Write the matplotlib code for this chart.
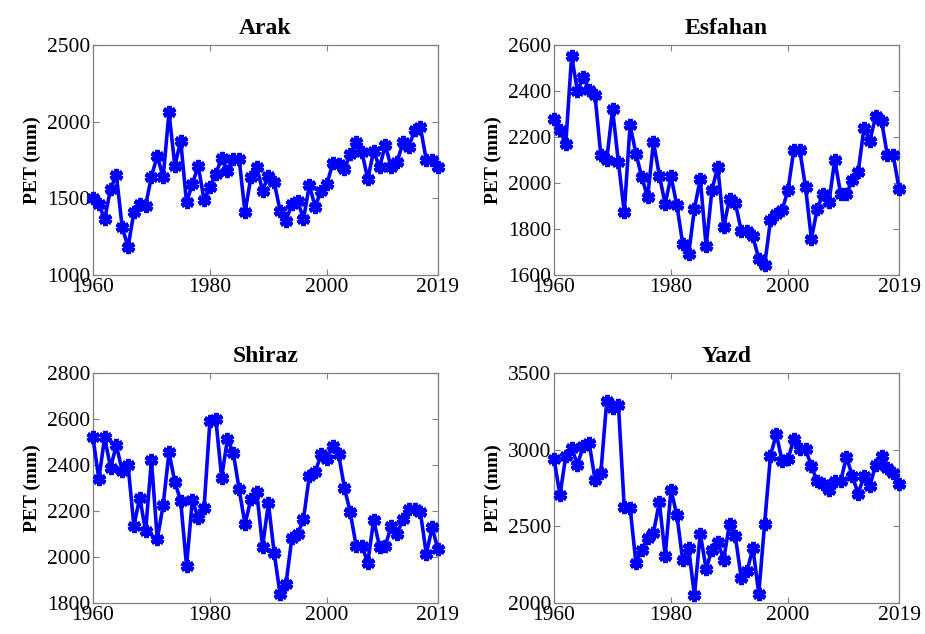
import matplotlib

matplotlib.use("Agg")

import matplotlib.pyplot as plt
import numpy as np

years = np.arange(1960, 2020)

arak = [1500, 1463, 1365, 1561, 1654, 1311, 1185, 1409, 1463, 1452,
        1643, 1778, 1637, 2061, 1713, 1876, 1474, 1593, 1713, 1489,
        1572, 1659, 1761, 1680, 1757, 1757, 1409, 1637, 1707, 1550,
        1648, 1604, 1420, 1354, 1463, 1485, 1365, 1587, 1446, 1550,
        1593, 1728, 1724, 1691, 1789, 1865, 1800, 1626, 1811, 1702,
        1848, 1702, 1735, 1865, 1833, 1946, 1963, 1750, 1750, 1702]

esfahan = [2280, 2229, 2171, 2551, 2400, 2461, 2403, 2381, 2120, 2101,
           2320, 2091, 1874, 2251, 2128, 2026, 1939, 2178, 2033, 1910,
           2029, 1903, 1736, 1690, 1888, 2019, 1725, 1971, 2070, 1809,
           1932, 1913, 1794, 1794, 1768, 1671, 1642, 1838, 1867, 1881,
           1971, 2145, 2145, 1983, 1758, 1888, 1954, 1917, 2101, 1954,
           1954, 2012, 2048, 2240, 2185, 2290, 2270, 2120, 2120, 1975]

shiraz = [2519, 2338, 2519, 2388, 2485, 2374, 2399, 2135, 2258, 2113,
          2420, 2077, 2225, 2454, 2326, 2243, 1961, 2248, 2167, 2214,
          2591, 2601, 2345, 2512, 2451, 2294, 2142, 2251, 2283, 2045,
          2233, 2015, 1838, 1881, 2080, 2099, 2164, 2352, 2367, 2446,
          2427, 2480, 2446, 2301, 2193, 2048, 2048, 1975, 2161, 2045,
          2048, 2135, 2099, 2164, 2207, 2207, 2193, 2012, 2128, 2033]

yazd = [2939, 2702, 2957, 3011, 2902, 3022, 3043, 2804, 2848, 3315,
        3272, 3293, 2624, 2620, 2261, 2348, 2424, 2457, 2657, 2309,
        2739, 2570, 2278, 2359, 2050, 2452, 2222, 2348, 2396, 2283,
        2515, 2435, 2163, 2207, 2359, 2061, 2515, 2957, 3102, 2924,
        2935, 3070, 3004, 3004, 2891, 2793, 2778, 2739, 2793, 2793,
        2952, 2826, 2713, 2826, 2761, 2902, 2957, 2880, 2848, 2772]

stations = ["Arak", "Esfahan", "Shiraz", "Yazd"]
series = [arak, esfahan, shiraz, yazd]
ylims = [(1000, 2500), (1600, 2600), (1800, 2800), (2000, 3500)]
ysteps = [500, 200, 200, 500]
xticks = [1960, 1980, 2000, 2019]

plt.rcParams["font.family"] = ["Liberation Serif", "DejaVu Serif"]

fig = plt.figure(figsize=(9.25, 6.34), dpi=100)
positions = [
    [0.1005, 0.566, 0.373, 0.363],
    [0.599, 0.566, 0.373, 0.363],
    [0.1005, 0.049, 0.373, 0.363],
    [0.599, 0.049, 0.373, 0.363],
]

for pos, name, vals, (lo, hi), step in zip(positions, stations, series, ylims, ysteps):
    ax = fig.add_axes(pos)
    ax.plot(years, vals, color="#0000ff", linewidth=2.6,
            marker=(6, 2, 0), markersize=9.5, markeredgewidth=3.2,
            markeredgecolor="#0000ff", clip_on=False, zorder=3)
    ax.set_xlim(1960, 2019)
    ax.set_ylim(lo, hi)
    ax.set_xticks(xticks)
    ax.set_yticks(np.arange(lo, hi + 1, step))
    ax.tick_params(direction="in", top=True, right=True, length=4,
                   labelsize=15.5, color="#808080", pad=2)
    for s in ax.spines.values():
        s.set_color("#808080")
        s.set_linewidth(0.9)
    ax.set_title(name, fontsize=17, fontweight="bold", pad=8)
    ax.set_ylabel("PET (mm)", fontsize=14, fontweight="bold", labelpad=4)

fig.savefig("out.png", dpi=100)
